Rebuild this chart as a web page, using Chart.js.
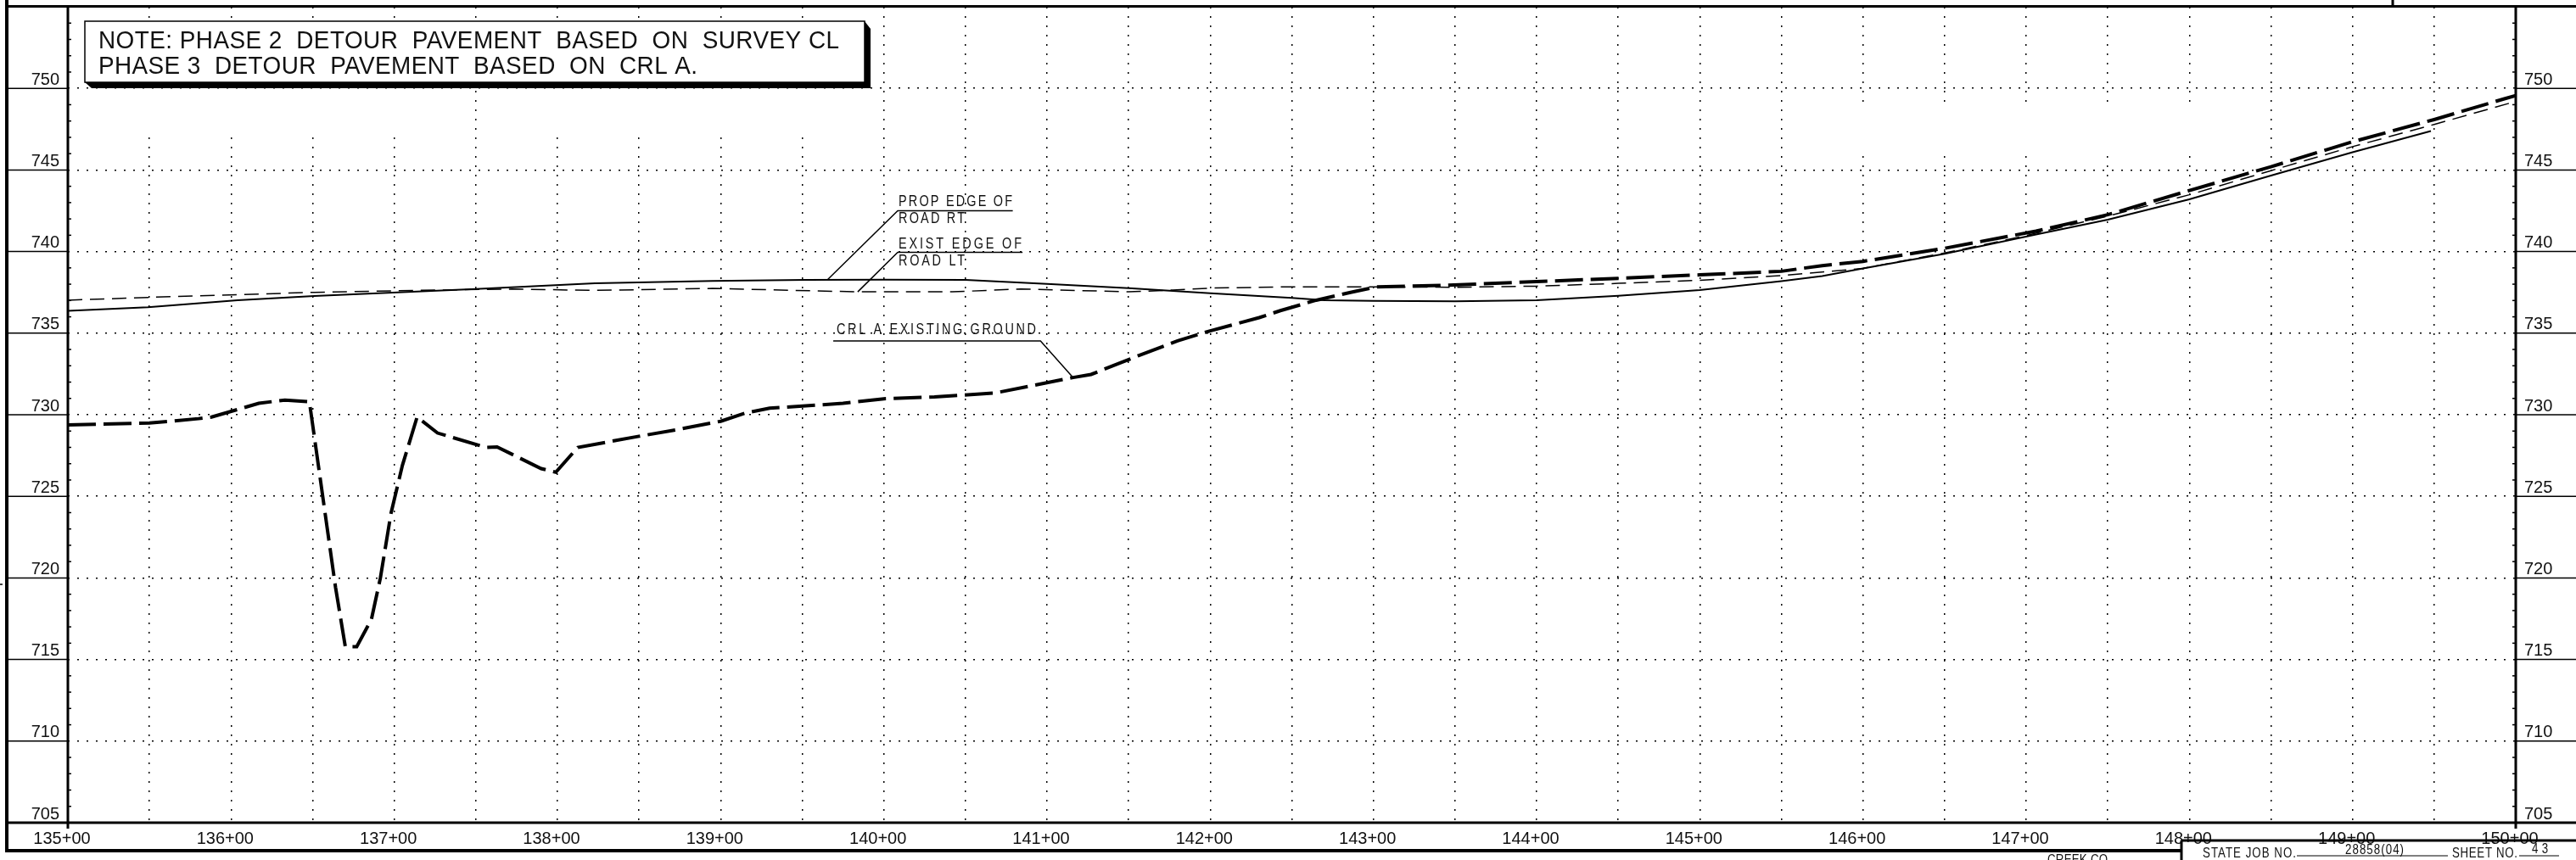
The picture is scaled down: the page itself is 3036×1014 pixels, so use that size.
<!DOCTYPE html>
<html><head><meta charset="utf-8">
<style>html,body{margin:0;padding:0;background:#fff;overflow:hidden}canvas{display:block}</style>
<script src="https://cdn.jsdelivr.net/npm/chart.js@4"></script>
</head><body><canvas id="c" width="3036" height="1014"></canvas>
<script>
const groundStations=[135,135.5,135.8,135.88,136.17,136.33,136.48,136.64,136.70,136.77,136.86,136.915,136.98,137.05,137.14,137.265,137.56,137.63,137.9,137.99,138.125,138.5,138.74,139,139.15,139.3,139.75,140,140.31,140.68,141.16,141.27,141.56,141.8,142,142.3,142.43,142.65,142.86,143.02,143.44,144,144.5,145,145.5,145.75,146,146.5,147.06,147.5,148,148.5,149,149.5,149.93,150];
const groundElev=[729.37,729.49,729.76,729.86,730.7,730.9,730.8,719.43,715.79,715.79,717.46,720,723.96,726.9,729.86,728.88,728,728.03,726.7,726.48,728,728.68,729.1,729.6,730.1,730.4,730.7,730.98,731.09,731.33,732.28,732.47,733.62,734.53,735.14,735.95,736.38,737.02,737.5,737.84,737.93,738.16,738.36,738.57,738.79,739.14,739.4,740.2,741.25,742.26,743.74,745.2,746.73,748.09,749.36,749.56];
const propStations=[135,135.49,136.04,136.51,137.5,138.23,138.95,139.52,140,140.5,141,141.5,142,142.5,142.7,143,143.5,144,144.5,145,145.5,145.75,146,146.5,147.06,147.5,148,148.5,149,149.48];
const propElev=[736.37,736.59,737.02,737.28,737.7,738.05,738.2,738.26,738.28,738.26,738.02,737.76,737.45,737.16,737.02,736.98,736.95,737.02,737.29,737.64,738.19,738.5,738.97,739.86,741.04,741.95,743.2,744.66,746.09,747.39];
const existStations=[135,135.49,136.04,136.51,137.13,137.72,138.23,138.95,139.84,140.42,140.84,141.5,141.77,142,142.5,143,143.5,144,144.5,145,145.5,145.94,146,146.5,147,147.5,148,148.5,149,149.5,150];
const existElev=[737.02,737.19,737.36,737.5,737.62,737.7,737.62,737.74,737.53,737.53,737.71,737.53,737.64,737.76,737.84,737.84,737.81,737.88,738.05,738.24,738.53,738.91,738.97,739.91,740.98,742.17,743.48,744.96,746.43,747.79,749.2];
const leaderProp=[[139.655,738.28],[140.085,742.5],[140.79,742.5]];
const leaderExist=[[139.84,737.53],[140.085,739.95],[140.85,739.95]];
const leaderGround=[[139.69,734.52],[140.96,734.52],[141.16,732.28]];
const gridGaps=[[135.5,749.9,747.1],[136,749.9,747.1],[136.5,749.9,747.1],[137,749.9,747.1],[138,749.9,747.1],[138.5,749.9,747.1],[139,749.9,747.1],[139.5,749.9,747.1],[146,749,746],[146.5,749,746],[147,749,746],[147.5,749,746],[148,749,746]];
const noteLines=[["NOTE: PHASE 2  DETOUR  PAVEMENT  BASED  ON  SURVEY CL",116,57,873],["PHASE 3  DETOUR  PAVEMENT  BASED  ON  CRL A.",116,87,706]];
const calloutTexts=[["PROP EDGE OF",1059,243,134],["ROAD RT",1059,263,78],["EXIST EDGE OF",1059,293,145],["ROAD LT",1059,313,78],["CRL A EXISTING GROUND",986,394,235]];
const blockTexts=[["STATE JOB NO.",2596,1011,110],["28858(04)",2764,1007,69],["SHEET NO.",2890,1011,77],["43",2984,1006,19],["CREEK CO.",2413,1019,75]];
const SANS='"Liberation Sans",sans-serif';
const pts=(xs,ys)=>xs.map((x,i)=>({x,y:ys[i]}));
const pair=a=>a.map(p=>({x:p[0],y:p[1]}));
function fitText(ctx,t,x,y,w,size,sx){ctx.save();ctx.font=size+'px '+SANS;ctx.letterSpacing='0px';const m=ctx.measureText(t).width;ctx.translate(x,y);ctx.scale(sx,1);ctx.letterSpacing=((w/sx-m)/(t.length-1)).toFixed(3)+'px';ctx.textAlign='left';ctx.textBaseline='alphabetic';ctx.fillStyle='#111';ctx.fillText(t,0,0);ctx.restore();}
const sheet={id:'sheet',
 beforeDatasetsDraw(ch){const c=ch.ctx,{x,y}=ch.scales;c.save();c.fillStyle='#fff';gridGaps.forEach(g=>{const px=x.getPixelForValue(g[0]);c.fillRect(px-3,y.getPixelForValue(g[1]),6,y.getPixelForValue(g[2])-y.getPixelForValue(g[1]));});c.restore();},
 afterDraw(ch){const c=ch.ctx,{x,y}=ch.scales,a=ch.chartArea;c.save();c.setLineDash([]);c.strokeStyle='#000';
  const L=(x1,y1,x2,y2,w)=>{c.lineWidth=w;c.beginPath();c.moveTo(x1,y1);c.lineTo(x2,y2);c.stroke();};
  L(a.left,a.top,a.left,a.bottom+7,3);L(a.right,a.top,a.right,a.bottom+7,3);L(a.left-72,a.bottom,a.right+71,a.bottom,3);
  for(let v=705;v<=755;v++){const p=y.getPixelForValue(v);if(v%5===0&&v<755&&v>705){L(10,p,a.left,p,1.5);L(a.right,p,3036,p,1.5);}else if(v<755){L(a.left,p,a.left+4,p,1.5);L(a.right-4,p,a.right,p,1.5);}}
  L(8,0,8,1004,4);L(6,7.5,3036,7.5,3);L(2820,0,2820,7,3);L(6,1003,2571,1003,4);L(2571,991,3036,991,3);L(2571,991,2571,1014,3);
  L(2707,1009,2885,1009,1);L(2969,1009,3016,1009,1);L(0,689,3,689,1.5);
  c.fillStyle='#000';c.beginPath();c.moveTo(100,97);c.lineTo(1019,25);c.lineTo(1026,34);c.lineTo(1026,104);c.lineTo(108,104);c.closePath();c.fill();
  c.fillStyle='#fff';c.fillRect(100,25,919,72);c.lineWidth=1.5;c.strokeRect(100,25,919,72);
  noteLines.forEach(t=>fitText(c,t[0],t[1],t[2],t[3],30,0.93));
  calloutTexts.forEach(t=>fitText(c,t[0],t[1],t[2],t[3],19,0.76));
  blockTexts.forEach(t=>fitText(c,t[0],t[1],t[2],t[3],17,0.78));
  c.restore();}
};
const tickFont={family:SANS,size:20};
const noPad=s=>{s.paddingTop=0;s.paddingBottom=0;s.paddingLeft=0;s.paddingRight=0;};
new Chart(document.getElementById('c'),{type:'line',plugins:[sheet],
 data:{datasets:[
  {label:'CRL A EXISTING GROUND',data:pts(groundStations,groundElev),borderColor:'#000',borderWidth:4,borderDash:[33,9],pointRadius:0,tension:0},
  {label:'PROP EDGE OF ROAD RT',data:pts(propStations,propElev),borderColor:'#000',borderWidth:2,pointRadius:0,tension:0},
  {label:'EXIST EDGE OF ROAD LT',data:pts(existStations,existElev),borderColor:'#000',borderWidth:1.5,borderDash:[17,9],pointRadius:0,tension:0},
  {label:'leader prop',data:pair(leaderProp),borderColor:'#000',borderWidth:1.5,pointRadius:0,tension:0},
  {label:'leader exist',data:pair(leaderExist),borderColor:'#000',borderWidth:1.5,pointRadius:0,tension:0},
  {label:'leader ground',data:pair(leaderGround),borderColor:'#000',borderWidth:1.5,pointRadius:0,tension:0}
 ]},
 options:{responsive:false,animation:false,devicePixelRatio:1,
  layout:{padding:{top:8,left:0,right:0,bottom:0}},
  plugins:{legend:{display:false},tooltip:{enabled:false},title:{display:false}},
  scales:{
   x:{type:'linear',min:135,max:150,afterFit:s=>{s.height=44;noPad(s);},afterBuildTicks:s=>{s.ticks=[];for(let i=0;i<=30;i++)s.ticks.push({value:135+i/2});},
     grid:{color:'#000',lineWidth:1.5,drawTicks:false},border:{display:false,dash:[2,9]},
     ticks:{autoSkip:false,maxRotation:0,minRotation:0,color:'#111',font:tickFont,padding:7,labelOffset:-7,callback:v=>Number.isInteger(v)?v+'+00':''}},
   y:{type:'linear',position:'left',min:705,max:755,afterFit:s=>{s.width=80;noPad(s);},
     grid:{color:'#000',lineWidth:1.5,drawTicks:false},border:{display:false,dash:[2,9]},
     ticks:{stepSize:5,color:'#111',font:tickFont,padding:10,labelOffset:-10,callback:v=>v<755?String(v):''}},
   yRight:{type:'linear',position:'right',min:705,max:755,afterFit:s=>{s.width=71;noPad(s);},
     grid:{drawOnChartArea:false,drawTicks:false},border:{display:false},
     ticks:{stepSize:5,color:'#111',font:tickFont,padding:10,labelOffset:-10,callback:v=>v<755?String(v):''}}
  }}});
</script></body></html>
